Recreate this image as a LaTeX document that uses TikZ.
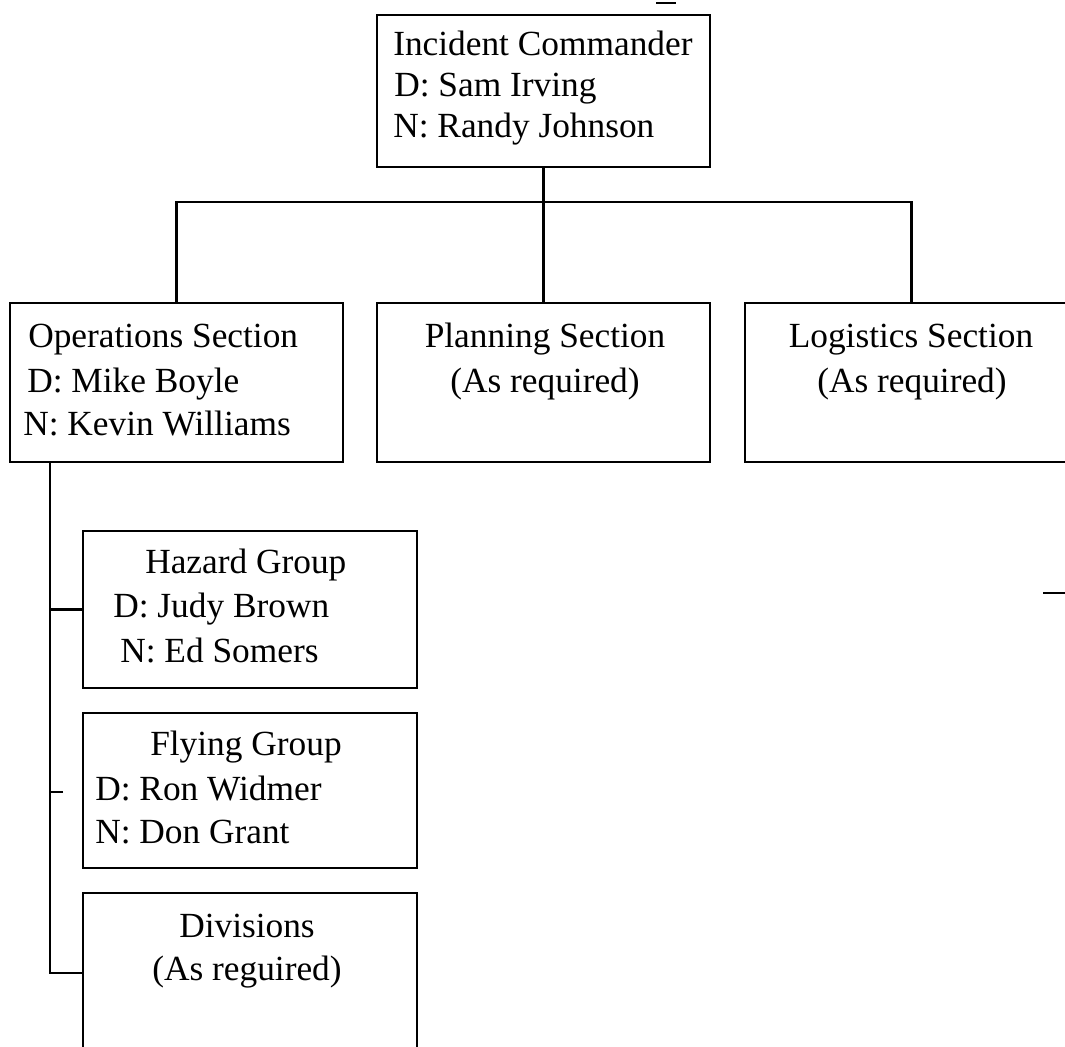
\documentclass[tikz,border=0pt]{standalone}
\usepackage{fontspec}
\setmainfont{Liberation Serif}
\usetikzlibrary{fit}
\begin{document}
\begin{tikzpicture}[x=0.75pt,y=-0.75pt,
  box/.style={draw=black, line width=2.2pt, inner sep=0pt, fill=none},
  txt/.style={inner sep=0pt, font=\fontsize{26.5}{30}\selectfont},
  conn/.style={draw=black, line width=2.2pt}]
\useasboundingbox (0,0) rectangle (1065,1047);
\clip (0,0) rectangle (1065,1047);
\fill[white] (0,0) rectangle (1065,1047);
% boxes
\node[box, fit={(377,15) (710,167)}] (ic) {};
\node[box, fit={(10,303) (343,462)}] (ops) {};
\node[box, fit={(377,303) (710,462)}] (plan) {};
\node[box, fit={(745,303) (1078,462)}] (log) {};
\node[box, fit={(83,531) (417,688)}] (haz) {};
\node[box, fit={(83,713) (417,868)}] (fly) {};
\node[box, fit={(83,893) (417,1053)}] (div) {};
% texts
\node[txt, anchor=base west] (ic1) at (393,55) {Incident Commander};
\node[txt, anchor=base west] (ic2) at (394,96) {D: Sam Irving};
\node[txt, anchor=base west] (ic3) at (393,137) {N: Randy Johnson};
\node[txt, anchor=base west] (ops1) at (28,347) {Operations Section};
\node[txt, anchor=base west] (ops2) at (27,392) {D: Mike Boyle};
\node[txt, anchor=base west] (ops3) at (23,435) {N: Kevin Williams};
\node[txt, anchor=base] (plan1) at (545,347) {Planning Section};
\node[txt, anchor=base] (plan2) at (545,392) {(As required)};
\node[txt, anchor=base] (log1) at (911,347) {Logistics Section};
\node[txt, anchor=base] (log2) at (912,392) {(As required)};
\node[txt, anchor=base west] (haz1) at (145,573) {Hazard Group};
\node[txt, anchor=base west] (haz2) at (113,617) {D: Judy Brown};
\node[txt, anchor=base west] (haz3) at (120,662) {N: Ed Somers};
\node[txt, anchor=base west] (fly1) at (150,755) {Flying Group};
\node[txt, anchor=base west] (fly2) at (95,800) {D: Ron Widmer};
\node[txt, anchor=base west] (fly3) at (95,843) {N: Don Grant};
\node[txt, anchor=base] (div1) at (247,937) {Divisions};
\node[txt, anchor=base] (div2) at (247,980) {(As reguired)};
% connectors
\coordinate (bar) at (543,202);
\coordinate (stem) at (50,462);
\coordinate (flytick) at (63,792);
\draw[conn] (ic.south) -- (plan.north);
\draw[conn] (ops.north) -- (ops.north |- bar) -| (log.north);
\draw[conn] (stem) |- (div.west);
\draw[conn] (haz.west) -- (haz.west -| stem);
\draw[conn] (flytick) -- (flytick -| stem);
% small marks
\draw[line width=1pt] (1043,593) -- (1065,593);
\draw[line width=1pt] (656,3) -- (676,3);
\end{tikzpicture}
\end{document}
